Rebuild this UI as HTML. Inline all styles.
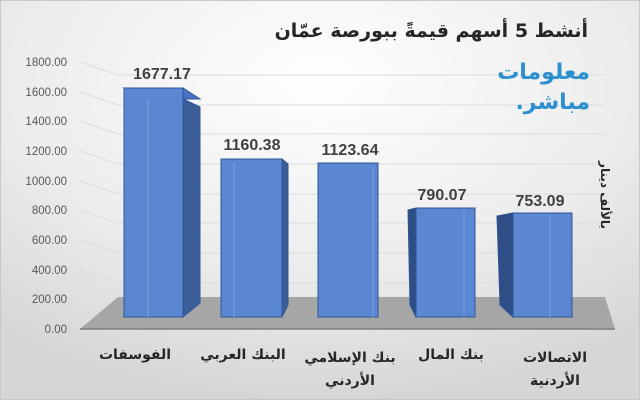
<!DOCTYPE html>
<html><head><meta charset="utf-8"><style>
html,body{margin:0;padding:0;}
body{width:640px;height:400px;overflow:hidden;position:relative;font-family:"Liberation Sans","DejaVu Sans",sans-serif;}
.ar{position:absolute;direction:rtl;white-space:nowrap;font-family:"DejaVu Sans",sans-serif;font-weight:bold;}
</style></head><body>
<svg width="640" height="400" viewBox="0 0 640 400" xmlns="http://www.w3.org/2000/svg" style="position:absolute;left:0;top:0">
<defs>
<radialGradient id="bg" cx="50%" cy="20%" r="80%">
<stop offset="0" stop-color="#ffffff"/><stop offset="0.6" stop-color="#ececec"/><stop offset="1" stop-color="#d6d6d6"/>
</radialGradient>
</defs>
<rect width="640" height="400" fill="url(#bg)"/>
<rect x="0.5" y="0.5" width="639" height="399" fill="none" stroke="#c8c8c8"/>
<g stroke="#dcdcdc" stroke-width="1" fill="none">
<path d="M80 62 L118 75 L605 75"/>
<path d="M80 92 L118 105 L605 105"/>
<path d="M80 121 L118 134 L605 134"/>
<path d="M80 151 L118 164 L605 164"/>
<path d="M80 181 L118 194 L605 194"/>
<path d="M80 210 L118 223 L605 223"/>
<path d="M80 240 L118 253 L605 253"/>
<path d="M80 270 L118 283 L605 283"/>
</g>
<polygon points="118,297 605,297 615,329 80,329" fill="#a6a6a6"/>
<line x1="80" y1="329" x2="615" y2="329" stroke="#7f7f7f" stroke-width="1.5"/>
<g font-size="11.5" fill="#595959" text-anchor="end">
<text x="67" y="66">1800.00</text><text x="67" y="96">1600.00</text><text x="67" y="125">1400.00</text>
<text x="67" y="155">1200.00</text><text x="67" y="185">1000.00</text><text x="67" y="214">800.00</text>
<text x="67" y="244">600.00</text><text x="67" y="274">400.00</text><text x="67" y="303">200.00</text>
<text x="67" y="333">0.00</text>
</g>
<g stroke="#2f5597" stroke-width="1">
<polygon points="183,99 200,107 200,303 183,317" fill="#3d5f99"/>
<polygon points="124,88 183,88 200,99 142,99" fill="#4a72c0"/>
<rect x="124" y="88" width="59" height="229" fill="#5b86d1"/>
<line x1="148" y1="99" x2="148" y2="317" stroke="#7ea0db"/>
<polygon points="282,159 288,164 288,305 282,317" fill="#3d5f99"/>
<rect x="221" y="159" width="61" height="158" fill="#5b86d1"/>
<line x1="234" y1="163" x2="234" y2="317" stroke="#7ea0db"/>
<rect x="318" y="163" width="60" height="154" fill="#5b86d1"/>
<line x1="373" y1="167" x2="373" y2="317" stroke="#7ea0db"/>
<polygon points="408,210 416,208 416,317 410,305" fill="#2f4e85"/>
<rect x="416" y="208" width="59" height="109" fill="#5b86d1"/>
<line x1="464" y1="212" x2="464" y2="317" stroke="#7ea0db"/>
<polygon points="497,216 513,213 513,317 500,305" fill="#2f4e85"/>
<rect x="513" y="213" width="59" height="104" fill="#5b86d1"/>
<line x1="550" y1="217" x2="550" y2="317" stroke="#7ea0db"/>
</g>
<g font-size="16" font-weight="bold" fill="#404040" text-anchor="middle">
<text x="162" y="79">1677.17</text>
<text x="252" y="150">1160.38</text>
<text x="350" y="155">1123.64</text>
<text x="442" y="200">790.07</text>
<text x="540" y="206">753.09</text>
</g>
</svg>
<div class="ar" style="right:52px;top:20px;font-size:19px;color:#262626;">أنشط 5 أسهم قيمةً ببورصة عمّان</div>
<div class="ar" style="right:50px;top:58px;font-size:22px;color:#2b8fd0;line-height:30px;text-align:right;">معلومات<br>مباشر.</div>
<div class="ar" style="left:555px;top:188px;width:100px;text-align:center;font-size:12px;color:#262626;transform:rotate(90deg);">بالألف دينار</div>
<div class="ar" style="left:85px;top:347px;width:100px;text-align:center;font-size:14px;color:#262626;">الفوسفات</div>
<div class="ar" style="left:193px;top:347px;width:100px;text-align:center;font-size:14px;color:#262626;">البنك العربي</div>
<div class="ar" style="left:290px;top:347px;width:120px;text-align:center;font-size:14px;color:#262626;line-height:23px;">بنك الإسلامي<br>الأردني</div>
<div class="ar" style="left:401px;top:347px;width:100px;text-align:center;font-size:14px;color:#262626;">بنك المال</div>
<div class="ar" style="left:505px;top:347px;width:100px;text-align:center;font-size:14px;color:#262626;line-height:23px;">الاتصالات<br>الأردنية</div>
</body></html>
